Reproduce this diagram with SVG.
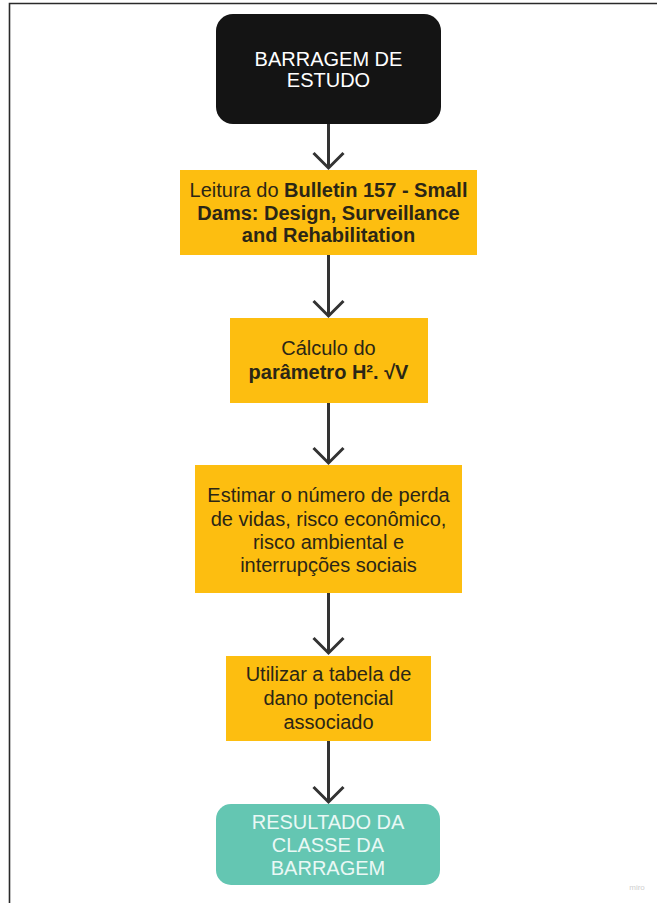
<svg xmlns="http://www.w3.org/2000/svg" width="657" height="903" viewBox="0 0 657 903">
<style>
.t{font-family:"Liberation Sans",Arial,sans-serif;text-anchor:middle}
.y{fill:#FDBE10}
.dk{fill:#2b2616;font-size:20px}
.b{font-weight:bold}
.w{fill:#ffffff;font-size:20px}
.tw{fill:#eaf8f5;font-size:20px}
.c{stroke:#333;stroke-width:3;fill:none}
</style>
<rect width="657" height="903" fill="#fff"/>
<path d="M9.5 903 V3.5 H657" fill="none" stroke="#2a2a2a" stroke-width="1.6"/>
<g id="connectors">
<path class="c" d="M328.5 124 V168 M313.5 153 L328.5 168 L343.5 153"/>
<path class="c" d="M328.5 255 V316 M313.5 301 L328.5 316 L343.5 301"/>
<path class="c" d="M328.5 403 V463 M313.5 448 L328.5 463 L343.5 448"/>
<path class="c" d="M328.5 593 V653 M313.5 638 L328.5 653 L343.5 638"/>
<path class="c" d="M328.5 741 V802 M313.5 787 L328.5 802 L343.5 787"/>
</g>
<g id="n1">
<rect x="216" y="14" width="225" height="110" rx="17" fill="#141414"/>
<text class="t w" x="328.5" y="66">BARRAGEM DE</text>
<text class="t w" x="328.5" y="87">ESTUDO</text>
</g>
<g id="n2">
<rect class="y" x="180" y="170" width="297" height="85"/>
<text class="t dk" x="328.5" y="197">Leitura do <tspan class="b">Bulletin 157 - Small</tspan></text>
<text class="t dk b" x="328.5" y="219.5">Dams: Design, Surveillance</text>
<text class="t dk b" x="328.5" y="242">and Rehabilitation</text>
</g>
<g id="n3">
<rect class="y" x="230" y="318" width="198" height="85"/>
<text class="t dk" x="328.5" y="355">Cálculo do</text>
<text class="t dk b" x="328.5" y="379">parâmetro H². √V</text>
</g>
<g id="n4">
<rect class="y" x="195" y="465" width="267" height="128"/>
<text class="t dk" x="328.5" y="502">Estimar o número de perda</text>
<text class="t dk" x="328.5" y="526">de vidas, risco econômico,</text>
<text class="t dk" x="328.5" y="549">risco ambiental e</text>
<text class="t dk" x="328.5" y="572">interrupções sociais</text>
</g>
<g id="n5">
<rect class="y" x="226" y="656" width="205" height="85"/>
<text class="t dk" x="328.5" y="681">Utilizar a tabela de</text>
<text class="t dk" x="328.5" y="705">dano potencial</text>
<text class="t dk" x="328.5" y="729">associado</text>
</g>
<g id="n6">
<rect x="216" y="804" width="224" height="81" rx="15" fill="#64C6B2"/>
<text class="t tw" x="328" y="829">RESULTADO DA</text>
<text class="t tw" x="328" y="852">CLASSE DA</text>
<text class="t tw" x="328" y="875">BARRAGEM</text>
</g>
<text class="t" x="637" y="890" font-size="8" fill="#cfcfcf">miro</text>
</svg>
